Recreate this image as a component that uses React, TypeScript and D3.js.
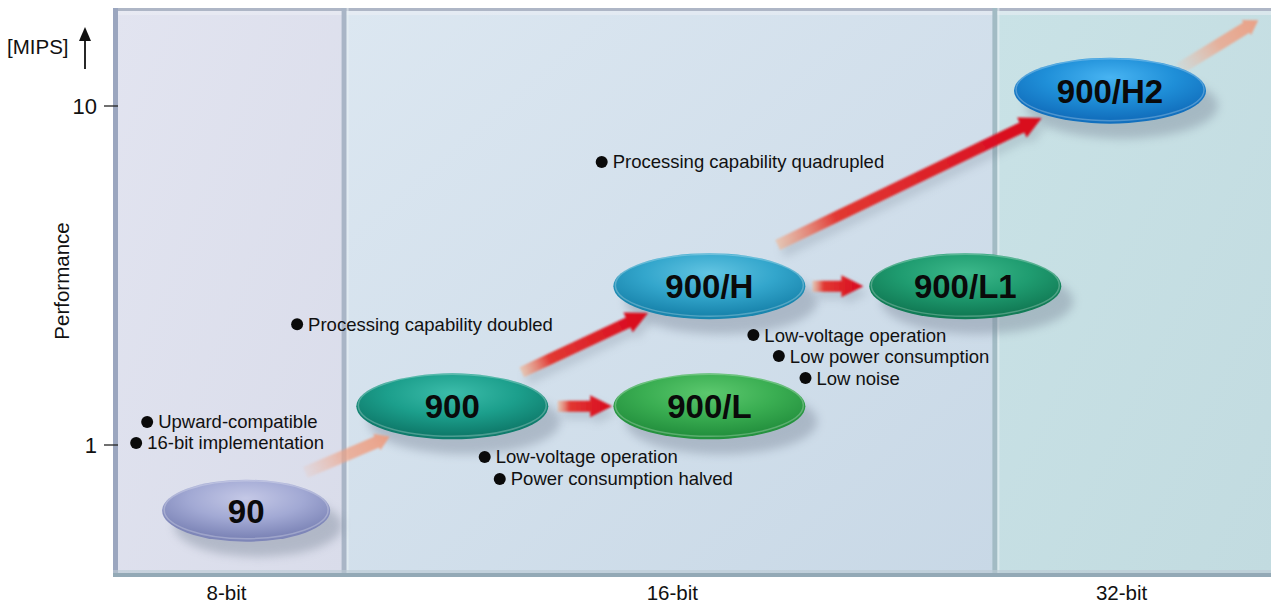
import React from 'react';
import * as d3 from 'd3';

// bit-width bands along the x axis (x in 0..100 layout units)
const BAND_LABELS = ['8-bit', '16-bit', '32-bit'];
const BAND_START = [0, 20.0, 76.2];
const BAND_END = [20.0, 76.2, 100];
const BAND_LABEL_X = [9.8, 48.3, 87.1];
const BAND_FILL_TOP = ['#e2e4f0', '#dce7f1', '#c9e2e6'];
const BAND_FILL_BOTTOM = ['#d9dcea', '#c8d8e6', '#c2dbe0'];

// microcontroller series (performance in MIPS)
const NODE_NAMES = ['90', '900', '900/L', '900/H', '900/L1', '900/H2'];
const NODE_X = [11.5, 29.3, 51.5, 51.5, 73.6, 86.1];
const NODE_MIPS = [0.64, 1.3, 1.3, 2.94, 2.94, 11.1];
const NODE_LIGHT = ['#c4c8e6', '#3cbcaa', '#5cc86e', '#62c4e2', '#3cb88a', '#48b4f2'];
const NODE_BASE = ['#a2a9d4', '#1c9f8c', '#3aae52', '#33a6cc', '#1f9c70', '#1f8fd8'];
const NODE_DARK = ['#7e86b8', '#0f7c6c', '#25923f', '#1a86ae', '#127c56', '#1270be'];

// arrows: start/end in (x, MIPS), and whether they are the faint ones
const ARROW_X1 = [16.6, 35.3, 38.4, 60.4, 57.4, 92.1];
const ARROW_Y1 = [0.83, 1.64, 1.3, 2.94, 3.89, 12.9];
const ARROW_X2 = [23.9, 46.2, 43.1, 64.8, 80.2, 98.9];
const ARROW_Y2 = [1.06, 2.45, 1.3, 2.94, 9.22, 17.9];
const ARROW_FAINT = [true, false, false, false, false, true];

// bullet notes
const NOTE_TEXT = [
  'Upward-compatible',
  '16-bit implementation',
  'Processing capability doubled',
  'Low-voltage operation',
  'Power consumption halved',
  'Processing capability quadrupled',
  'Low-voltage operation',
  'Low power consumption',
  'Low noise',
];
const NOTE_X = [2.95, 2.0, 15.9, 32.1, 33.4, 42.2, 55.3, 57.5, 59.8];
const NOTE_MIPS = [1.17, 1.014, 2.27, 0.922, 0.794, 6.84, 2.11, 1.83, 1.576];

const Y_TICKS = [1, 10];

const W = 1271;
const H = 604;
const LEFT = 113;
const TOP = 8;
const BOTTOM = 577;
const FONT = 'Liberation Sans, Arial, Helvetica, sans-serif';

const x = d3.scaleLinear().domain([0, 100]).range([LEFT, W]);
const y = d3.scaleLog().domain([1, 10]).range([445, 106]);

function arrowPath(x1: number, y1: number, x2: number, y2: number, w: number, hw: number, hl: number) {
  const dx = x2 - x1;
  const dy = y2 - y1;
  const len = Math.hypot(dx, dy);
  const ux = dx / len, uy = dy / len;
  const nx = -uy, ny = ux;
  const bx = x2 - ux * hl, by = y2 - uy * hl;
  const pts: [number, number][] = [
    [x1 + nx * w, y1 + ny * w],
    [bx + nx * w, by + ny * w],
    [bx + nx * hw, by + ny * hw],
    [x2, y2],
    [bx - nx * hw, by - ny * hw],
    [bx - nx * w, by - ny * w],
    [x1 - nx * w, y1 - ny * w],
  ];
  return d3.line()(pts) + 'Z';
}

export default function App() {
  const nodes = NODE_NAMES.map((name, i) => ({
    name, cx: x(NODE_X[i]), cy: y(NODE_MIPS[i]),
    rx: i === 0 ? 84 : 96, ry: i === 0 ? 31 : 33, i,
  }));

  return (
    <svg width={W} height={H} style={{ display: 'block', position: 'absolute', left: 0, top: 0 }}>
      <defs>
        {BAND_LABELS.map((_, i) => (
          <linearGradient key={i} id={`band${i}`} x1="0" y1="0" x2="1" y2="1">
            <stop offset="0" stopColor={BAND_FILL_TOP[i]} />
            <stop offset="1" stopColor={BAND_FILL_BOTTOM[i]} />
          </linearGradient>
        ))}
        {nodes.map((n) => (
          <radialGradient key={n.i} id={`node${n.i}`} cx="50%" cy="30%" r="62%">
            <stop offset="0" stopColor={NODE_LIGHT[n.i]} />
            <stop offset="0.55" stopColor={NODE_BASE[n.i]} />
            <stop offset="1" stopColor={NODE_DARK[n.i]} />
          </radialGradient>
        ))}
        <filter id="blur" x="-20%" y="-40%" width="140%" height="180%">
          <feGaussianBlur stdDeviation="5" />
        </filter>
        <filter id="soft" x="-10%" y="-50%" width="120%" height="200%">
          <feGaussianBlur stdDeviation="1.2" />
        </filter>
        {ARROW_X1.map((_, i) => {
          const faint = ARROW_FAINT[i];
          return (
            <linearGradient key={i} id={`arrow${i}`} gradientUnits="userSpaceOnUse"
              x1={x(ARROW_X1[i])} y1={y(ARROW_Y1[i])} x2={x(ARROW_X2[i])} y2={y(ARROW_Y2[i])}>
              {faint ? (
                <>
                  <stop offset="0" stopColor="#f3b59a" stopOpacity="0.15" />
                  <stop offset="0.5" stopColor="#efa184" stopOpacity="0.75" />
                  <stop offset="1" stopColor="#ee9a7c" stopOpacity="0.9" />
                </>
              ) : (
                <>
                  <stop offset="0" stopColor="#f5b28a" stopOpacity="0.55" />
                  <stop offset="0.22" stopColor="#e3302a" stopOpacity="0.95" />
                  <stop offset="1" stopColor="#d8061c" />
                </>
              )}
            </linearGradient>
          );
        })}
      </defs>

      {/* band panels */}
      {BAND_LABELS.map((lab, i) => (
        <g key={lab}>
          <rect x={x(BAND_START[i])} y={TOP} width={x(BAND_END[i]) - x(BAND_START[i])} height={BOTTOM - TOP}
            fill={`url(#band${i})`} />
          <text x={x(BAND_LABEL_X[i])} y={600} textAnchor="middle" fontFamily={FONT} fontSize={20.5} fill="#111">{lab}</text>
        </g>
      ))}
      {/* panel edges */}
      <rect x={LEFT} y={TOP} width={W - LEFT} height={3} fill="#aeb6c6" />
      <rect x={LEFT} y={TOP + 3} width={W - LEFT} height={4} fill="#eef0f6" opacity={0.5} />
      <rect x={LEFT} y={TOP} width={5} height={BOTTOM - TOP} fill="#9ba6bf" />
      {BAND_START.slice(1).map((s, i) => (
        <g key={i}>
          <rect x={x(s) - 3} y={TOP} width={5} height={BOTTOM - TOP} fill={i === 0 ? '#a9b5c6' : '#a2bbc4'} />
          <rect x={x(s) + 2} y={TOP} width={2} height={BOTTOM - TOP} fill="#e8f0f4" opacity={0.6} />
        </g>
      ))}
      <rect x={LEFT} y={BOTTOM - 4} width={W - LEFT} height={4} fill="#93a9b6" />
      <rect x={LEFT} y={BOTTOM - 7} width={W - LEFT} height={3} fill="#b9c8d2" opacity={0.6} />

      {/* y axis */}
      {Y_TICKS.map((t) => (
        <g key={t}>
          <line x1={104} x2={118} y1={y(t)} y2={y(t)} stroke="#222" strokeWidth={1.3} />
          <text x={97} y={y(t) + 8} textAnchor="end" fontFamily={FONT} fontSize={22} fill="#111">{t}</text>
        </g>
      ))}
      <text x={7} y={54} fontFamily={FONT} fontSize={20.5} fill="#111">[MIPS]</text>
      <line x1={85} x2={85} y1={69} y2={38} stroke="#111" strokeWidth={1.8} />
      <path d="M85,27 L91,41 L79,41 Z" fill="#111" />
      <text transform={`translate(69,${281}) rotate(-90)`} textAnchor="middle" fontFamily={FONT} fontSize={20.5} fill="#111">Performance</text>

      {/* node shadows */}
      {nodes.map((n) => (
        <ellipse key={n.i} cx={n.cx + 12} cy={n.cy + 15} rx={n.rx} ry={n.ry} fill="#7a8698" opacity={0.42} filter="url(#blur)" />
      ))}

      {/* arrows */}
      {ARROW_X1.map((_, i) => {
        const faint = ARROW_FAINT[i];
        const x1 = x(ARROW_X1[i]), y1 = y(ARROW_Y1[i]), x2 = x(ARROW_X2[i]), y2 = y(ARROW_Y2[i]);
        const d = arrowPath(x1, y1, x2, y2, faint ? 6 : 5.5, faint ? 9 : 11, faint ? 14 : 22);
        return (
          <g key={i}>
            {!faint && <path d={d} transform="translate(5,7)" fill="#6a7686" opacity={0.25} filter="url(#blur)" />}
            <path d={d} fill={`url(#arrow${i})`} filter="url(#soft)" />
          </g>
        );
      })}

      {/* nodes */}
      {nodes.map((n) => (
        <g key={n.i}>
          <ellipse cx={n.cx} cy={n.cy} rx={n.rx} ry={n.ry} fill={`url(#node${n.i})`} />
          <ellipse cx={n.cx} cy={n.cy - 1} rx={n.rx - 2} ry={n.ry - 2} fill="none" stroke="#ffffff" strokeOpacity={0.25} strokeWidth={1.5} />
          <text x={n.cx} y={n.cy + 12} textAnchor="middle" fontFamily={FONT} fontWeight="bold" fontSize={33} fill="#0a0a0a">{n.name}</text>
        </g>
      ))}

      {/* bullet notes */}
      {NOTE_TEXT.map((t, i) => (
        <g key={i}>
          <circle cx={x(NOTE_X[i])} cy={y(NOTE_MIPS[i])} r={6} fill="#0a0a0a" />
          <text x={x(NOTE_X[i]) + 11} y={y(NOTE_MIPS[i]) + 6.5} fontFamily={FONT} fontSize={18.5} fill="#111">{t}</text>
        </g>
      ))}
    </svg>
  );
}
